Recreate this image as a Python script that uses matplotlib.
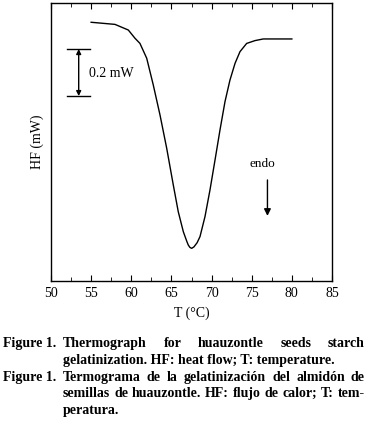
import matplotlib
matplotlib.use('Agg')
import matplotlib.pyplot as plt
from matplotlib.ticker import MultipleLocator

# thermogram: temperature (C) and heat flow (mW, arbitrary offset)
temp = [55.0, 57.97, 59.63, 60.46, 61.08, 61.92, 62.74, 63.58, 64.41, 65.23, 65.85,
        66.48, 66.9, 67.1, 67.3, 67.52, 67.8, 68.2, 68.56, 69.18, 69.8, 70.43, 71.05,
        71.67, 72.29, 72.92, 73.54, 74.37, 75.41, 76.44, 79.56, 80.0]
hf = [1.101, 1.092, 1.068, 1.033, 1.011, 0.948, 0.834, 0.706, 0.565, 0.409, 0.295,
      0.210, 0.170, 0.153, 0.143, 0.139, 0.145, 0.163, 0.189, 0.274, 0.387, 0.515, 0.643,
      0.763, 0.855, 0.926, 0.976, 1.011, 1.023, 1.030, 1.030, 1.030]
xticks = [50, 55, 60, 65, 70, 75, 80, 85]

caption_en = ['Thermograph for huauzontle seeds starch',
              'gelatinization. HF: heat flow; T: temperature.']
caption_es = ['Termograma de la gelatinización del almidón de',
              'semillas de huauzontle. HF: flujo de calor; T: tem-',
              'peratura.']

plt.rcParams['font.family'] = ['Liberation Serif', 'DejaVu Serif']

W, H = 370, 428
fig = plt.figure(figsize=(W / 100, H / 100), dpi=100)
ax = fig.add_axes([51 / W, 1 - 281 / H, 281 / W, 278 / H])
ax.plot(temp, hf, color='black', lw=1.0)
ax.set_xlim(50, 85)
ax.set_ylim(0, 1.183)
ax.set_xticks(xticks)
ax.xaxis.set_minor_locator(MultipleLocator(2.5))
ax.set_yticks([])
ax.tick_params(axis='x', which='both', direction='in', top=True, labelsize=10, pad=4)
ax.tick_params(axis='x', which='major', length=4)
ax.tick_params(axis='x', which='minor', length=3)
for s in ax.spines.values():
    s.set_linewidth(1.0)
ax.set_xlabel('T (°C)', fontsize=10, labelpad=5)
ax.set_ylabel('HF (mW)', fontsize=10, labelpad=5)

# scale bar 0.2 mW
ax.plot([52.0, 54.86], [0.987, 0.987], color='black', lw=1.0)
ax.plot([52.0, 54.86], [0.787, 0.787], color='black', lw=1.0)
ax.annotate('', xy=(53.45, 0.987), xytext=(53.45, 0.787),
            arrowprops=dict(arrowstyle='<|-|>', color='black', lw=1.0, mutation_scale=7,
                            shrinkA=0, shrinkB=0))
ax.text(54.73, 0.881, '0.2 mW', fontsize=10, va='center', ha='left')

# endo arrow
ax.text(76.28, 0.498, 'endo', fontsize=9.5, ha='center', va='center')
ax.annotate('', xy=(76.96, 0.277), xytext=(76.96, 0.430),
            arrowprops=dict(arrowstyle='-|>', color='black', lw=1.0, mutation_scale=10,
                            shrinkA=0, shrinkB=0))

# caption, justified by hand (y given as baseline in pixels from top)
fig.canvas.draw()
rend = fig.canvas.get_renderer()
fs = 10


def put(word, x, y):
    return fig.text(x / W, 1 - y / H, word, fontsize=fs, fontweight='bold',
                    ha='left', va='baseline')


def line(text, x0, x1, y, justify=True):
    words = text.split(' ')
    if not justify:
        put(text, x0, y)
        return
    objs = [put(w, 0, y) for w in words]
    widths = [o.get_window_extent(rend).width for o in objs]
    gap = (x1 - x0 - sum(widths)) / (len(words) - 1)
    x = x0
    for o, w in zip(objs, widths):
        o.set_x(x / W)
        x += w + gap


left, body, right = 3, 63, 365
put('Figure 1.', left, 347)
line(caption_en[0], body, right, 347)
line(caption_en[1], body, right, 364, justify=False)
put('Figure 1.', left, 381)
line(caption_es[0], body, right, 381)
line(caption_es[1], body, right, 397)
line(caption_es[2], body, right, 414, justify=False)

fig.savefig('out.png', dpi=100)
